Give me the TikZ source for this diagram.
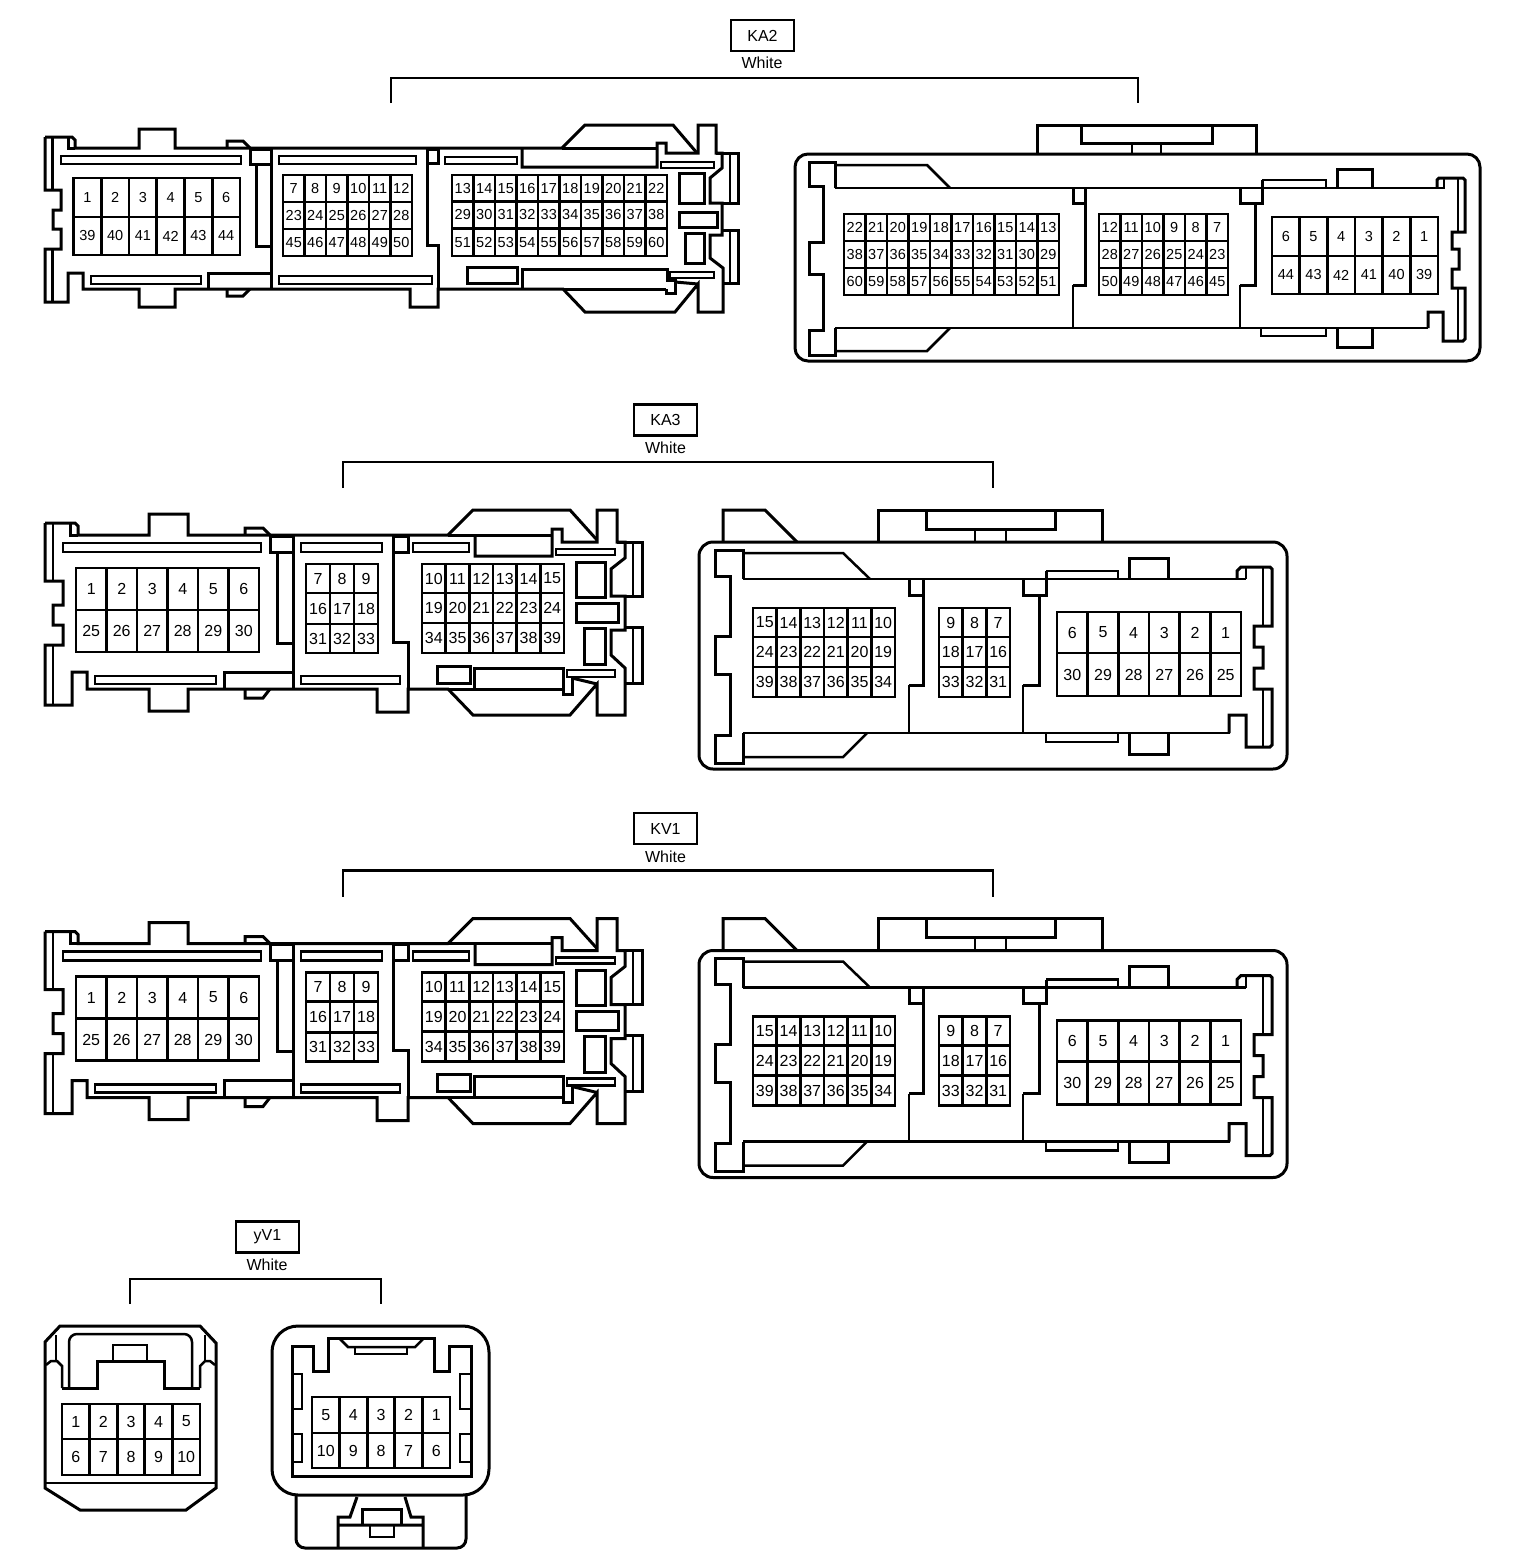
\documentclass[tikz,border=0pt]{standalone}
\usepackage{fontspec}
\setmainfont{Liberation Sans}
\tikzset{
  housing/.style={line width=3pt, line join=miter},
  slimline/.style={line width=2.5pt},
  bracket/.style={line width=2.8pt},
  tagbox/.style={draw, line width=2.2pt, minimum width=63pt, minimum height=31pt, inner sep=0pt, font=\fontsize{16}{16}\selectfont},
  colourtext/.style={inner sep=0pt, font=\fontsize{16}{16}\selectfont},
  pincell/.style={draw, line width=2.8pt, inner sep=0pt, font=\fontsize{14.5}{15}\selectfont},
  bigpin/.style={pincell, font=\fontsize{16}{16}\selectfont}
}
\newcommand{\pinrow}[7][pincell]{%
  \pgfmathsetmacro{\cellw}{(#3-#2)/#6}
  \foreach \lab [count=\c] in {#7}
    \node[#1, minimum width=\cellw pt, minimum height={(#5-#4)*1pt}] (#1#2#4n\lab)
      at ({#2+(\c-0.5)*\cellw},{(#4+#5)/2}) {\lab};
}
\begin{document}
\begin{tikzpicture}[x=1pt,y=-1pt]
\useasboundingbox (0,0) rectangle (1520,1566);

\node[tagbox] (ka2tag) at (762.5,35.5) {KA2};
\node[colourtext] (ka2colour) at (762,63) {White};
\coordinate (ka2left) at (391,103);
\coordinate (ka2right) at (1138,103);
\draw[bracket] (ka2left) -- ++(0,-25) -| (ka2right);

\draw[housing] (45,137) -- (72,137) -- (75,140) -- (75,148) -- (139,148) -- (139,129) -- (175,129) -- (175,148)
      -- (562,148) -- (585,125) -- (673,125) -- (697,153);
\draw[housing] (562,148) -- (657,148);
\draw[housing] (68,137) -- (68,148) -- (75,148);
\draw[housing] (45,137) -- (45,190) -- (61,190) -- (61,210) -- (53,210) -- (53,229) -- (61,229)
      -- (61,249) -- (45,249) -- (45,302) -- (68,302) -- (68,273) -- (83,273) -- (83,289)
      -- (139,289) -- (139,307) -- (175,307) -- (175,289) -- (410,289) -- (410,307) -- (438,307)
      -- (438,289) -- (563,289) -- (585,312) -- (675,312) -- (698,284) -- (698,312) -- (723,312)
      -- (723,268) -- (710,258) -- (710,235) -- (722,235) -- (722,203) -- (710,203) -- (710,178)
      -- (722,168) -- (722,153) -- (716,153) -- (716,125) -- (698,125) -- (698,153) -- (666,153)
      -- (666,143) -- (657,143) -- (657,167) -- (522,167) -- (522,149);
\draw[housing] (563,289) -- (666,289);
\draw[housing] (716,153) -- (738,153) -- (738,203) -- (722,203)
      (722,230) -- (738,230) -- (738,283) -- (723,283);
\draw[slimline] (52.5,138) -- (52.5,190)   (52.5,249) -- (52.5,302)
      (730,153) -- (730,203)   (730,230) -- (730,283);
\draw[housing] (227,148) -- (227,141) -- (243,141) -- (250,148)
      (227,289) -- (227,296) -- (243,296) -- (250,289);
\draw[housing] (250,149) rectangle (271,164);
\draw[housing] (256,164) -- (256,246) -- (271,246)   (271,148) -- (271,289);
\draw[housing] (208,289) -- (208,273) -- (271,273);
\draw[housing] (427,149) rectangle (438,163);
\draw[housing] (427,163) -- (427,245) -- (438,245) -- (438,289);
\draw[housing] (522,288) -- (522,269) -- (667,269) -- (667,280) -- (675,280) -- (675,293) -- (666,293) -- (666,289);
\draw[housing] (675,282) -- (698,284);
\draw[slimline] (61,156) rectangle (241,164)   (91,276) rectangle (201,284)
      (279,156) rectangle (416,164)   (279,276) rectangle (432,284)
      (445,157) rectangle (517,164)   (661,162) rectangle (714,168)   (670,272) rectangle (714,278);
\draw[housing] (679,173) rectangle (704,203)   (679,212) rectangle (717,227)
      (685,233) rectangle (704,263)   (467,267) rectangle (517,283);
\pinrow{73.5}{240}{178}{217}{6}{1,2,...,6}
\pinrow{73.5}{240}{217}{255}{6}{39,40,...,44}
\pinrow{283}{412}{175}{202}{6}{7,8,...,12}
\pinrow{283}{412}{202}{229}{6}{23,24,...,28}
\pinrow{283}{412}{229}{256}{6}{45,46,...,50}
\pinrow{452}{667}{175}{201.5}{10}{13,14,...,22}
\pinrow{452}{667}{201.5}{228.5}{10}{29,30,...,38}
\pinrow{452}{667}{228.5}{256}{10}{51,52,...,60}

\draw[housing, rounded corners=13pt] (795,154) rectangle (1480,361);
\draw[housing] (1037,154) -- (1037,125) -- (1256,125) -- (1256,154);
\draw[housing] (1081,125) -- (1081,143) -- (1212,143) -- (1212,125);
\draw[slimline] (1132,143) -- (1132,154)   (1161,143) -- (1161,154);
\draw[housing] (835,188) -- (835,162) -- (809,162) -- (809,186) -- (823,186) -- (823,242) -- (809,242)
      -- (809,274) -- (823,274) -- (823,330) -- (809,330) -- (809,355) -- (835,355) -- (835,328);
\draw[slimline] (835,165) -- (927,165) -- (950,188)   (950,328) -- (927,351) -- (835,351);
\draw[slimline] (835,188) -- (1437,188)   (835,328) -- (1428,328);
\draw[housing] (1073,188) -- (1073,203) -- (1085,203)   (1085,188) -- (1085,285) -- (1073,285);
\draw[slimline] (1073,285) -- (1073,328);
\draw[housing] (1240,188) -- (1240,203) -- (1262,203) -- (1262,180);
\draw[housing] (1255,203) -- (1255,285) -- (1240,285);
\draw[slimline] (1240,285) -- (1240,328);
\draw[slimline] (1262,180) -- (1326,180) -- (1326,188)   (1261,328) -- (1261,336) -- (1326,336) -- (1326,328);
\draw[housing] (1337,188) -- (1337,169) -- (1372,169) -- (1372,188)
      (1337,328) -- (1337,347) -- (1372,347) -- (1372,328);
\draw[housing] (1437,188) -- (1437,180) -- (1439,178) -- (1463,178) -- (1465,180) -- (1465,232) -- (1452,232) -- (1452,249) -- (1459,249)
      -- (1459,269) -- (1452,269) -- (1452,288) -- (1465,288) -- (1465,339) -- (1463,341) -- (1443,341) -- (1443,312)
      -- (1428,312) -- (1428,328);
\draw[slimline] (1444,178) -- (1444,188) -- (1437,188)   (1458,178) -- (1458,232)   (1458,288) -- (1458,341);
\pinrow{844}{1059}{214}{241}{10}{22,21,...,13}
\pinrow{844}{1059}{241}{268}{10}{38,37,...,29}
\pinrow{844}{1059}{268}{295}{10}{60,59,...,51}
\pinrow{1099}{1228}{214}{241}{6}{12,11,...,7}
\pinrow{1099}{1228}{241}{268}{6}{28,27,...,23}
\pinrow{1099}{1228}{268}{295}{6}{50,49,...,45}
\pinrow{1272}{1438}{217}{256}{6}{6,5,...,1}
\pinrow{1272}{1438}{256}{294}{6}{44,43,...,39}

\foreach \off/\tagname in {0/KA3, 408.5/KV1}{
\begin{scope}[shift={(0,\off)}]
\node[tagbox] (\tagname tag) at (665.5,420) {\tagname};
\node[colourtext] (\tagname colour) at (665.5,448) {White};
\coordinate (\tagname left) at (343,488);
\coordinate (\tagname right) at (993,488);
\draw[bracket] (\tagname left) -- ++(0,-26) -| (\tagname right);

\draw[housing] (45,523) -- (75,523) -- (78,526) -- (78,535) -- (149,535) -- (149,514) -- (188,514) -- (188,535)
      -- (448,535) -- (473,510) -- (570,510) -- (597,540);
\draw[housing] (448,535) -- (552,535);
\draw[housing] (70,523) -- (70,535) -- (78,535);
\draw[housing] (45,523) -- (45,581) -- (63,581) -- (63,605) -- (53,605) -- (53,625) -- (63,625)
      -- (63,645) -- (45,645) -- (45,705) -- (72,705) -- (72,672) -- (87,672) -- (87,689)
      -- (149,689) -- (149,711) -- (188,711) -- (188,689) -- (377,689) -- (377,712) -- (408,712)
      -- (408,689) -- (448,689) -- (473,715) -- (570,715) -- (597,684) -- (597,715) -- (625,715)
      -- (625,668) -- (611,655) -- (611,630) -- (625,630) -- (625,596) -- (611,596) -- (611,569)
      -- (625,558) -- (625,542) -- (617,542) -- (617,510) -- (597,510) -- (597,542) -- (562,542)
      -- (562,529) -- (552,529) -- (552,556) -- (475,556) -- (475,536);
\draw[housing] (448,689) -- (563,689);
\draw[housing] (617,542) -- (642,542) -- (642,596) -- (625,596)
      (625,627) -- (642,627) -- (642,683) -- (625,683);
\draw[slimline] (53,524) -- (53,581)   (53,645) -- (53,705)
      (633,542) -- (633,596)   (633,627) -- (633,683);
\draw[housing] (245,535) -- (245,528) -- (263,528) -- (270,535)
      (245,689) -- (245,698) -- (263,698) -- (270,689);
\draw[housing] (270,536) rectangle (293,552);
\draw[housing] (277,552) -- (277,643) -- (293,643)   (293,536) -- (293,689);
\draw[housing] (224,689) -- (224,672) -- (293,672);
\draw[housing] (393,536) rectangle (408,552);
\draw[housing] (393,552) -- (393,642) -- (408,642) -- (408,689);
\draw[housing] (474,688) -- (474,668) -- (563,668) -- (563,694) -- (572,694) -- (572,677);
\draw[housing] (572,678) -- (597,684);
\draw[slimline] (63,543) rectangle (261,552)   (95,676) rectangle (216,684)
      (301,543) rectangle (382,552)   (301,676) rectangle (400,684)
      (413,543) rectangle (469,552)   (556,549) rectangle (615,555)   (567,670) rectangle (615,677);
\draw[housing] (576,562) rectangle (605,597)   (576,603) rectangle (618,622)
      (584,628) rectangle (605,664)   (437,666) rectangle (470,683);
\pinrow[bigpin]{76}{259}{568}{610}{6}{1,2,...,6}
\pinrow[bigpin]{76}{259}{610}{652}{6}{25,26,...,30}
\pinrow[bigpin]{306}{378}{564}{593}{3}{7,8,9}
\pinrow[bigpin]{306}{378}{593}{624}{3}{16,17,18}
\pinrow[bigpin]{306}{378}{624}{653}{3}{31,32,33}
\pinrow[bigpin]{422}{564}{564}{593}{6}{10,11,...,15}
\pinrow[bigpin]{422}{564}{593}{623}{6}{19,20,...,24}
\pinrow[bigpin]{422}{564}{623}{653}{6}{34,35,...,39}

\draw[housing, rounded corners=14pt] (699,542) rectangle (1287,769);
\draw[housing] (723,542) -- (723,510) -- (765,510) -- (797,542);
\draw[housing] (878,542) -- (878,510) -- (1102,510) -- (1102,542);
\draw[housing] (926,510) -- (926,529) -- (1055,529) -- (1055,510);
\draw[slimline] (975,529) -- (975,542)   (1006,529) -- (1006,542);
\draw[housing] (743,579) -- (743,550) -- (715,550) -- (715,576) -- (730,576) -- (730,636) -- (715,636)
      -- (715,674) -- (730,674) -- (730,735) -- (715,735) -- (715,763) -- (743,763) -- (743,733);
\draw[slimline] (743,553) -- (843,553) -- (870,579)   (867,733) -- (843,757) -- (743,757);
\draw[slimline] (743,579) -- (1246,579)   (743,733) -- (1230,733);
\draw[housing] (909,579) -- (909,595) -- (923,595)   (923,579) -- (923,685) -- (909,685);
\draw[slimline] (909,685) -- (909,733);
\draw[housing] (1023,579) -- (1023,595) -- (1046,595) -- (1046,571);
\draw[housing] (1039,595) -- (1039,685) -- (1023,685);
\draw[slimline] (1023,685) -- (1023,733);
\draw[slimline] (1046,571) -- (1118,571) -- (1118,579)   (1046,733) -- (1046,742) -- (1118,742) -- (1118,733);
\draw[housing] (1129,579) -- (1129,558) -- (1168,558) -- (1168,579)
      (1129,733) -- (1129,754) -- (1168,754) -- (1168,733);
\draw[housing] (1237,579) -- (1237,571) -- (1241,567) -- (1270,567) -- (1272,569) -- (1272,626) -- (1254,626) -- (1254,647) -- (1263,647)
      -- (1263,668) -- (1254,668) -- (1254,689) -- (1272,689) -- (1272,745) -- (1270,747) -- (1246,747) -- (1246,715)
      -- (1229,715) -- (1229,733);
\draw[slimline] (1246,567) -- (1246,579)   (1263,567) -- (1263,626)   (1263,689) -- (1263,747);
\pinrow[bigpin]{753}{895}{608}{637}{6}{15,14,...,10}
\pinrow[bigpin]{753}{895}{637}{667}{6}{24,23,...,19}
\pinrow[bigpin]{753}{895}{667}{697}{6}{39,38,...,34}
\pinrow[bigpin]{939}{1010}{608}{637}{3}{9,8,7}
\pinrow[bigpin]{939}{1010}{637}{667}{3}{18,17,16}
\pinrow[bigpin]{939}{1010}{667}{697}{3}{33,32,31}
\pinrow[bigpin]{1057}{1241}{612}{653}{6}{6,5,...,1}
\pinrow[bigpin]{1057}{1241}{653}{696}{6}{30,29,...,25}
\end{scope}
}

\node[tagbox] (yv1tag) at (267.5,1237) {yV1};
\node[colourtext] (yv1colour) at (267,1265) {White};
\coordinate (yv1left) at (130,1304);
\coordinate (yv1right) at (381,1304);
\draw[bracket] (yv1left) -- ++(0,-25) -| (yv1right);

\draw[housing] (45,1342) -- (60,1326) -- (200,1326) -- (216,1343) -- (216,1488) -- (186,1510) -- (80,1510)
      -- (45,1488) -- cycle;
\draw[slimline] (45,1483) -- (216,1483);
\draw[slimline, rounded corners=8pt] (69,1388) -- (69,1334) -- (192,1334) -- (192,1388);
\draw[housing] (62,1388) -- (97,1388) -- (97,1361) -- (164,1361) -- (164,1388) -- (200,1388);
\draw[slimline] (113,1361) -- (113,1345) -- (147,1345) -- (147,1361);
\draw[slimline] (62,1388) -- (62,1366) -- (57,1361) -- (51,1361) -- (46,1365)
      (200,1388) -- (200,1366) -- (205,1361) -- (210,1361) -- (215,1365);
\draw[slimline] (56,1335) -- (56,1361)   (205,1335) -- (205,1361);
\pinrow[bigpin]{62}{200}{1404}{1439}{5}{1,2,...,5}
\pinrow[bigpin]{62}{200}{1439}{1475}{5}{6,7,...,10}

\draw[housing, rounded corners=26pt] (272,1326) rectangle (489,1495);
\draw[housing, rounded corners=9pt] (296,1495) -- (296,1548) -- (466,1548) -- (466,1495);
\draw[housing] (292,1346) -- (313,1346) -- (313,1371) -- (328,1371) -- (328,1338) -- (434,1338) -- (434,1371)
      -- (449,1371) -- (449,1346) -- (471,1346) -- (471,1476) -- (292,1476) -- cycle;
\draw[slimline] (340,1339) -- (348,1347) -- (415,1347) -- (423,1339);
\draw[slimline] (355,1347) -- (355,1354) -- (407,1354) -- (407,1347);
\draw[slimline] (292,1374) -- (302,1374) -- (302,1409) -- (292,1409)
      (292,1434) -- (302,1434) -- (302,1462) -- (292,1462)
      (471,1374) -- (460,1374) -- (460,1409) -- (471,1409)
      (471,1434) -- (460,1434) -- (460,1462) -- (471,1462);
\pinrow[bigpin]{312}{450}{1397}{1433}{5}{5,4,...,1}
\pinrow[bigpin]{312}{450}{1433}{1468}{5}{10,9,...,6}
\draw[housing] (357,1497) -- (350,1517) -- (338,1517) -- (338,1548)
      (405,1497) -- (411,1517) -- (423,1517) -- (423,1548)   (338,1525) -- (423,1525);
\draw[housing] (362,1525) -- (362,1509) -- (401,1509) -- (401,1525);
\draw[slimline] (370,1525) -- (370,1537) -- (394,1537) -- (394,1525);
\end{tikzpicture}
\end{document}
